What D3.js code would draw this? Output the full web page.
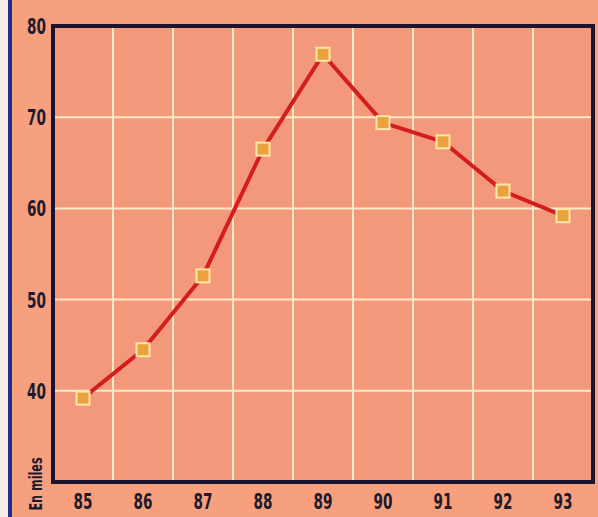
<!DOCTYPE html>
<html>
<head>
<meta charset="utf-8">
<script src="https://cdn.jsdelivr.net/npm/d3@7"></script>
<style>
  html, body { margin: 0; padding: 0; background: #f6a07e; }
  svg { display: block; }
</style>
</head>
<body>
<svg id="chart" width="598" height="517"></svg>
<script>
// Years shown along the bottom and the yearly values (in thousands)
const years = ["85", "86", "87", "88", "89", "90", "91", "92", "93"];
const values = [39.2, 44.5, 52.6, 66.5, 76.9, 69.4, 67.3, 61.9, 59.2];
const yTicks = [40, 50, 60, 70, 80];
const yLabel = "En miles";

const svg = d3.select("#chart");
const W = 598, H = 517;
const frame = { left: 53, top: 26, right: 593, bottom: 482 };

// page background: pale strip at left, blue rule, salmon field
svg.append("rect").attr("x", 0).attr("y", 0).attr("width", W).attr("height", H).attr("fill", "#f6a07e");
svg.append("rect").attr("x", 0).attr("y", 0).attr("width", 8).attr("height", H).attr("fill", "#f6ece6");
svg.append("rect").attr("x", 8).attr("y", 0).attr("width", 4).attr("height", H).attr("fill", "#1f2f8a");

const x = d3.scaleBand().domain(years).range([frame.left, frame.right]).padding(0);
const y = d3.scaleLinear().domain([30, 80]).range([frame.bottom, frame.top]);

// plot area fill
svg.append("rect")
  .attr("x", frame.left).attr("y", frame.top)
  .attr("width", frame.right - frame.left).attr("height", frame.bottom - frame.top)
  .attr("fill", "#f4987c");

// vertical grid lines at band boundaries
const gridColor = "#fde9c8";
svg.append("g").selectAll("line")
  .data(years.slice(1))
  .join("line")
  .attr("x1", d => x(d)).attr("x2", d => x(d))
  .attr("y1", frame.top).attr("y2", frame.bottom)
  .attr("stroke", gridColor).attr("stroke-width", 2);

// horizontal grid lines
svg.append("g").selectAll("line")
  .data(yTicks.filter(t => t < 80))
  .join("line")
  .attr("x1", frame.left).attr("x2", frame.right)
  .attr("y1", d => y(d)).attr("y2", d => y(d))
  .attr("stroke", gridColor).attr("stroke-width", 2);

// frame
svg.append("rect")
  .attr("x", frame.left).attr("y", frame.top)
  .attr("width", frame.right - frame.left).attr("height", frame.bottom - frame.top)
  .attr("fill", "none").attr("stroke", "#1a1430").attr("stroke-width", 4);

// condensed bold labels: a bold face squeezed horizontally
const font = "'DejaVu Sans', sans-serif";
const squeeze = 0.62;
const ink = "#1e1a2e";

// y axis labels
svg.append("g").selectAll("text")
  .data(yTicks)
  .join("text")
  .attr("transform", d => `translate(46,${y(d)}) scale(${squeeze},1)`)
  .attr("text-anchor", "end").attr("dy", "0.36em")
  .attr("font-family", font).attr("font-weight", "bold").attr("font-size", 22)
  .attr("fill", ink)
  .text(d => d);

// x axis labels
svg.append("g").selectAll("text")
  .data(years)
  .join("text")
  .attr("transform", d => `translate(${x(d) + x.bandwidth() / 2},509) scale(${squeeze},1)`)
  .attr("text-anchor", "middle")
  .attr("font-family", font).attr("font-weight", "bold").attr("font-size", 22)
  .attr("fill", ink)
  .text(d => d);

// rotated unit label, squeezed along its length
svg.append("text")
  .attr("transform", `translate(42,484) rotate(-90) scale(0.66,1)`)
  .attr("text-anchor", "middle")
  .attr("font-family", font).attr("font-weight", "bold").attr("font-size", 17)
  .attr("fill", ink)
  .text(yLabel);

// data line
const pts = years.map((yr, i) => [x(yr) + x.bandwidth() / 2, y(values[i])]);
svg.append("path")
  .attr("d", d3.line()(pts))
  .attr("fill", "none").attr("stroke", "#d41d1d").attr("stroke-width", 4)
  .attr("stroke-linejoin", "round");

// square markers
const s = 13;
svg.append("g").selectAll("rect")
  .data(pts)
  .join("rect")
  .attr("x", d => d[0] - s / 2).attr("y", d => d[1] - s / 2)
  .attr("width", s).attr("height", s)
  .attr("fill", "#e9a23e").attr("stroke", "#ffe7a8").attr("stroke-width", 2);
</script>
</body>
</html>
